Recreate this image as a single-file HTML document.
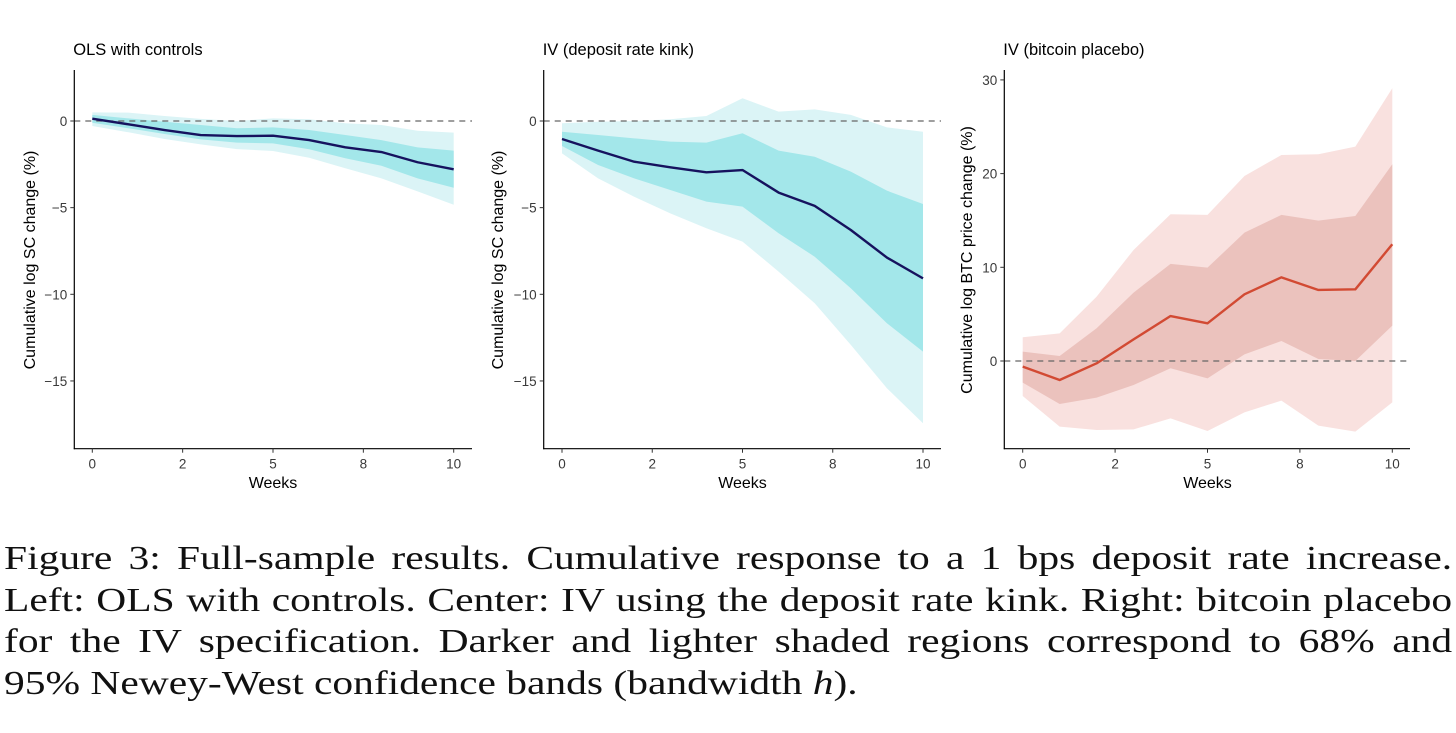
<!DOCTYPE html>
<html><head><meta charset="utf-8"><style>
body{margin:0;background:#fff;width:1456px;height:733px;overflow:hidden;position:relative}
svg text{font-family:"Liberation Sans",sans-serif}
#cap{position:absolute;left:4px;top:538px;width:1187px;transform:scaleX(1.22);transform-origin:0 0;font-family:"Liberation Serif",serif;font-size:34px;line-height:41.5px;color:#111}
#cap div{text-align:justify;text-align-last:justify;white-space:nowrap}
#cap div.last{text-align-last:left}
</style></head><body>
<svg id="chart" width="1456" height="520" style="position:absolute;left:0;top:0"></svg>
<div id="cap">
<div>Figure 3: Full-sample results. Cumulative response to a 1 bps deposit rate increase.</div>
<div>Left: OLS with controls. Center: IV using the deposit rate kink. Right: bitcoin placebo</div>
<div>for the IV specification. Darker and lighter shaded regions correspond to 68% and</div>
<div class="last">95% Newey-West confidence bands (bandwidth <i>h</i>).</div>
</div>
<script>
const weeks=[0,1,2,3,4,5,6,7,8,9,10];
const xTickVals=[0,2.5,5,7.5,10];
const xTickLabels=["0","2","5","8","10"];
const olsLine=[0.13,-0.19,-0.52,-0.81,-0.87,-0.85,-1.10,-1.52,-1.79,-2.38,-2.79];
const olsLightU=[0.5,0.48,0.29,0.12,0,0.15,0.1,-0.13,-0.23,-0.56,-0.67];
const olsLightL=[-0.29,-0.65,-1.04,-1.35,-1.62,-1.73,-2.12,-2.73,-3.31,-4.06,-4.83];
const olsDarkU=[0.35,0.15,-0.04,-0.23,-0.42,-0.37,-0.52,-0.81,-1.1,-1.52,-1.71];
const olsDarkL=[-0.1,-0.42,-0.75,-1.06,-1.25,-1.29,-1.63,-2.15,-2.58,-3.31,-3.85];
const ivLine=[-1.04,-1.71,-2.35,-2.67,-2.96,-2.83,-4.13,-4.9,-6.29,-7.88,-9.08];
const ivLightU=[-0.13,-0.04,0,0.1,0.29,1.31,0.54,0.67,0.35,-0.37,-0.62];
const ivLightL=[-1.87,-3.31,-4.37,-5.33,-6.19,-6.96,-8.69,-10.52,-12.92,-15.42,-17.44];
const ivDarkU=[-0.62,-0.81,-1.0,-1.19,-1.25,-0.71,-1.71,-2.06,-2.92,-4.02,-4.79];
const ivDarkL=[-1.44,-2.54,-3.31,-3.98,-4.65,-4.94,-6.48,-7.83,-9.65,-11.67,-13.31];
const btcLine=[-0.6,-2.03,-0.25,2.31,4.8,4.02,7.12,8.93,7.58,7.65,12.46];
const btcLightU=[2.53,2.95,6.87,11.85,15.66,15.59,19.75,21.99,22.06,22.88,29.11];
const btcLightL=[-3.74,-7.01,-7.37,-7.3,-6.12,-7.47,-5.48,-4.23,-6.9,-7.54,-4.41];
const btcDarkU=[1.0,0.53,3.49,7.3,10.36,9.96,13.7,15.59,14.98,15.48,21.0];
const btcDarkL=[-2.31,-4.59,-3.91,-2.56,-0.78,-1.85,0.71,2.14,0.21,0,3.77];
const scTicks=[0,-5,-10,-15];
const btcTicks=[0,10,20,30];

const NS="http://www.w3.org/2000/svg";
const svg=document.getElementById('chart');
function mk(tag,attrs,parent){const e=document.createElementNS(NS,tag);for(const k in attrs)e.setAttribute(k,attrs[k]);(parent||svg).appendChild(e);return e;}
function panel(o){
  const g=mk('g',{});
  
  
  const X=v=>o.x0+(o.x1-o.x0)*v/10;
  const Y=v=>o.yz-o.ppu*v;
  const band=(U,L,fill,nm)=>{
    let d=weeks.map((w,i)=>(i?'L':'M')+X(w)+','+Y(U[i])).join('')+weeks.slice().reverse().map(w=>'L'+X(w)+','+Y(L[w])).join('')+'Z';
    const p=mk('path',{d:d,fill:fill},g);
    
    
  };
  band(o.lu,o.ll,o.c1,'ci-95-band');
  band(o.du,o.dl,o.c2,'ci-68-band');
  const zl=mk('line',{x1:o.ax,x2:o.xr,y1:Y(0),y2:Y(0),stroke:'#666','stroke-width':1.3,'stroke-dasharray':'6,5'},g);
  
  
  const ln=mk('path',{d:weeks.map((w,i)=>(i?'L':'M')+X(w)+','+Y(o.line[i])).join(''),fill:'none',stroke:o.lc,'stroke-width':2.4,'stroke-linejoin':'round'},g);
  
  
  const B=448.7;
  mk('line',{x1:o.ax,x2:o.ax,y1:70,y2:B+0.5,stroke:'#000','stroke-width':1.2},g);
  mk('line',{x1:o.ax-0.5,x2:o.xr,y1:B,y2:B,stroke:'#000','stroke-width':1.2},g);
  xTickVals.forEach((v,i)=>{
    mk('line',{x1:X(v),x2:X(v),y1:B,y2:B+4,stroke:'#333'},g);
    const t=mk('text',{x:X(v),y:B+20,'text-anchor':'middle','font-size':13.5,fill:'#3a3a3a'},g);
    t.textContent=xTickLabels[i];
    
  });
  o.yt.forEach(v=>{
    mk('line',{x1:o.ax-4,x2:o.ax,y1:Y(v),y2:Y(v),stroke:'#333'},g);
    const t=mk('text',{x:o.ax-7,y:Y(v)+5,'text-anchor':'end','font-size':13.5,fill:'#3a3a3a'},g);
    t.textContent=v<0?'\u2212'+(-v):String(v);
    
  });
  const xt=mk('text',{x:(o.x0+o.x1)/2,y:488,'text-anchor':'middle','font-size':16,fill:'#000'},g);
  xt.textContent='Weeks';
  
  const yt=mk('text',{x:0,y:0,'text-anchor':'middle','font-size':16,fill:'#000',transform:'translate('+o.ytx+',260) rotate(-90)'},g);
  yt.textContent=o.ytitle;
  
  const tt=mk('text',{x:o.ax-1,y:55,'font-size':16.5,fill:'#000'},g);
  tt.textContent=o.title;
  
}
panel({name:'ols-panel',title:'OLS with controls',ytitle:'Cumulative log SC change (%)',x0:92.3,x1:453.7,ax:74.3,xr:472,yz:121,ppu:17.33,ytx:35,yt:scTicks,line:olsLine,lu:olsLightU,ll:olsLightL,du:olsDarkU,dl:olsDarkL,c1:'#dbf4f6',c2:'#a3e7ea',lc:'#16125e'});
panel({name:'iv-panel',title:'IV (deposit rate kink)',ytitle:'Cumulative log SC change (%)',x0:562,x1:923,ax:543.7,xr:941,yz:121,ppu:17.33,ytx:503,yt:scTicks,line:ivLine,lu:ivLightU,ll:ivLightL,du:ivDarkU,dl:ivDarkL,c1:'#dbf4f6',c2:'#a3e7ea',lc:'#16125e'});
panel({name:'btc-placebo-panel',title:'IV (bitcoin placebo)',ytitle:'Cumulative log BTC price change (%)',x0:1022.7,x1:1392.3,ax:1004.3,xr:1410,yz:361,ppu:9.37,ytx:972,yt:btcTicks,line:btcLine,lu:btcLightU,ll:btcLightL,du:btcDarkU,dl:btcDarkL,c1:'#f9e1df',c2:'#ebc2bd',lc:'#d24a33'});
</script>
</body></html>
